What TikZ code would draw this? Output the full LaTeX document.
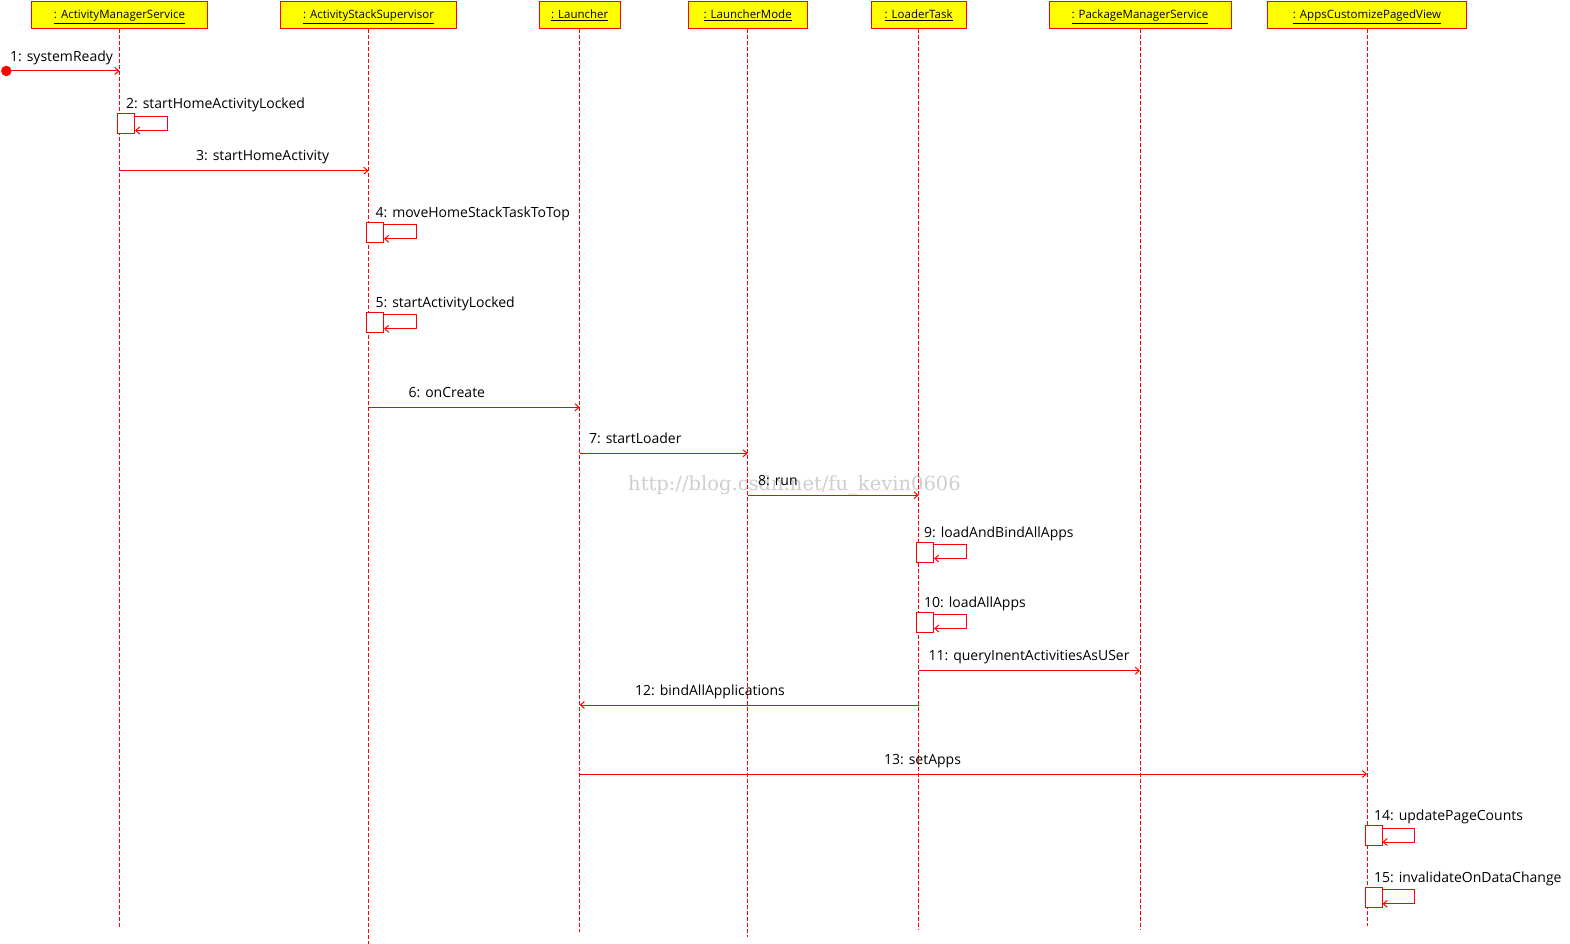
\documentclass[tikz,border=0pt]{standalone}
\usepackage{fontspec}
\setmainfont{Open Sans}
\newfontfamily\wmfont{DejaVu Serif}
\usetikzlibrary{arrows.meta}
\definecolor{lred}{RGB}{255,0,0}
\definecolor{lyel}{RGB}{255,255,0}
\definecolor{wmgray}{RGB}{208,206,204}
\begin{document}
\begin{tikzpicture}[x=1pt,y=-1pt,
 obj/.style={draw=lred,fill=lyel,line width=1pt,minimum height=26.5pt,inner sep=0pt,text height=10pt,text depth=2pt,font=\fontsize{11.5}{13}\selectfont},
 life/.style={draw=lred,line width=1pt,dash pattern=on 4pt off 2pt},
 msg/.style={draw=lred,line width=1pt,-{Straight Barb[length=4pt,width=7pt]}},
 act/.style={draw=lred,fill=white,line width=1pt,minimum width=17pt,minimum height=20pt,inner sep=0pt},
 lbl/.style={anchor=base west,inner sep=0pt,font=\fontsize{14}{16}\selectfont},
 startdot/.style={circle,fill=lred,minimum size=10.5pt,inner sep=0pt}]
\useasboundingbox (0,0) rectangle (1570,944);
% watermark
\node[anchor=base west,inner sep=0pt,text=wmgray,font=\wmfont\fontsize{19.5}{22}\selectfont] (wm) at (628,490) {http://blog.csdn.net/fu\_kevin0606};
% objects
\node[obj,minimum width=176.5pt] (ams) at (119.5,15) {\underline{: ActivityManagerService}};
\node[obj,minimum width=176pt] (ass) at (368.5,15) {\underline{: ActivityStackSupervisor}};
\node[obj,minimum width=81pt] (lau) at (579.7,15) {\underline{: Launcher}};
\node[obj,minimum width=119pt] (lm) at (747.7,15) {\underline{: LauncherMode}};
\node[obj,minimum width=95pt] (lt) at (918.6,15) {\underline{: LoaderTask}};
\node[obj,minimum width=182pt] (pms) at (1140,15) {\underline{: PackageManagerService}};
\node[obj,minimum width=199pt] (acpv) at (1367,15) {\underline{: AppsCustomizePagedView}};
% lifeline ends
\coordinate (amsE) at (119.5,928);
\coordinate (assE) at (368.5,944);
\coordinate (lauE) at (579.7,932);
\coordinate (lmE) at (747.7,937);
\coordinate (ltE) at (918.6,929);
\coordinate (pmsE) at (1140,929);
\coordinate (acpvE) at (1367,926);
\draw[life] (ams.south) -- (amsE);
\draw[life] (ass.south) -- (assE);
\draw[life] (lau.south) -- (lauE);
\draw[life] (lm.south) -- (lmE);
\draw[life] (lt.south) -- (ltE);
\draw[life] (pms.south) -- (pmsE);
\draw[life] (acpv.south) -- (acpvE);
% 1
\node[startdot] (start) at (6.3,71) {};
\coordinate (m1e) at (119.5,71);
\draw[msg] (start.center) -- (m1e);
\node[lbl] (l1) at (10,61.5) {1: systemReady};
% 2
\node[act] (a2) at (126,124) {};
\draw[msg] ([yshift=-3pt]a2.north east) -- ++(32,0) -- ++(0,14) -- ++(-32,0);
\node[lbl] (l2) at (126,109) {2: startHomeActivityLocked};
% 3
\coordinate (m3s) at (119.5,170.7);
\coordinate (m3e) at (368.5,170.7);
\draw[msg] (m3s) -- (m3e);
\node[lbl] (l3) at (196,160.7) {3: startHomeActivity};
% 4
\node[act] (a4) at (375,232.3) {};
\draw[msg] ([yshift=-3pt]a4.north east) -- ++(32,0) -- ++(0,14) -- ++(-32,0);
\node[lbl] (l4) at (375.5,217.3) {4: moveHomeStackTaskToTop};
% 5
\node[act] (a5) at (375,322.3) {};
\draw[msg] ([yshift=-3pt]a5.north east) -- ++(32,0) -- ++(0,14) -- ++(-32,0);
\node[lbl] (l5) at (375.5,307.3) {5: startActivityLocked};
% 6
\coordinate (m6s) at (368.5,407.3);
\coordinate (m6e) at (579.7,407.3);
\draw[msg] (m6s) -- (m6e);
\node[lbl] (l6) at (408.5,397.3) {6: onCreate};
% 7
\coordinate (m7s) at (579.7,453.3);
\coordinate (m7e) at (747.7,453.3);
\draw[msg] (m7s) -- (m7e);
\node[lbl] (l7) at (589,443.5) {7: startLoader};
% 8
\coordinate (m8s) at (747.7,495.3);
\coordinate (m8e) at (918.6,495.3);
\draw[msg] (m8s) -- (m8e);
\node[lbl] (l8) at (758,485.3) {8: run};
% 9
\node[act] (a9) at (925.1,552) {};
\draw[msg] ([yshift=-3pt]a9.north east) -- ++(32,0) -- ++(0,14) -- ++(-32,0);
\node[lbl] (l9) at (924,537) {9: loadAndBindAllApps};
% 10
\node[act] (a10) at (925.1,622) {};
\draw[msg] ([yshift=-3pt]a10.north east) -- ++(32,0) -- ++(0,14) -- ++(-32,0);
\node[lbl] (l10) at (924,607) {10: loadAllApps};
% 11
\coordinate (m11s) at (918.6,670.7);
\coordinate (m11e) at (1140,670.7);
\draw[msg] (m11s) -- (m11e);
\node[lbl] (l11) at (928.5,660.7) {11: queryInentActivitiesAsUSer};
% 12
\coordinate (m12s) at (918.6,705);
\coordinate (m12e) at (579.7,705);
\draw[msg] (m12s) -- (m12e);
\node[lbl] (l12) at (635,695) {12: bindAllApplications};
% 13
\coordinate (m13s) at (579.7,774);
\coordinate (m13e) at (1367,774);
\draw[msg] (m13s) -- (m13e);
\node[lbl] (l13) at (884,764) {13: setApps};
% 14
\node[act] (a14) at (1373.5,835.5) {};
\draw[msg] ([yshift=-3pt]a14.north east) -- ++(32,0) -- ++(0,14) -- ++(-32,0);
\node[lbl] (l14) at (1374,820.5) {14: updatePageCounts};
% 15
\node[act] (a15) at (1373.5,897.3) {};
\draw[msg] ([yshift=-3pt]a15.north east) -- ++(32,0) -- ++(0,14) -- ++(-32,0);
\node[lbl] (l15) at (1374,882.3) {15: invalidateOnDataChange};
\end{tikzpicture}
\end{document}
